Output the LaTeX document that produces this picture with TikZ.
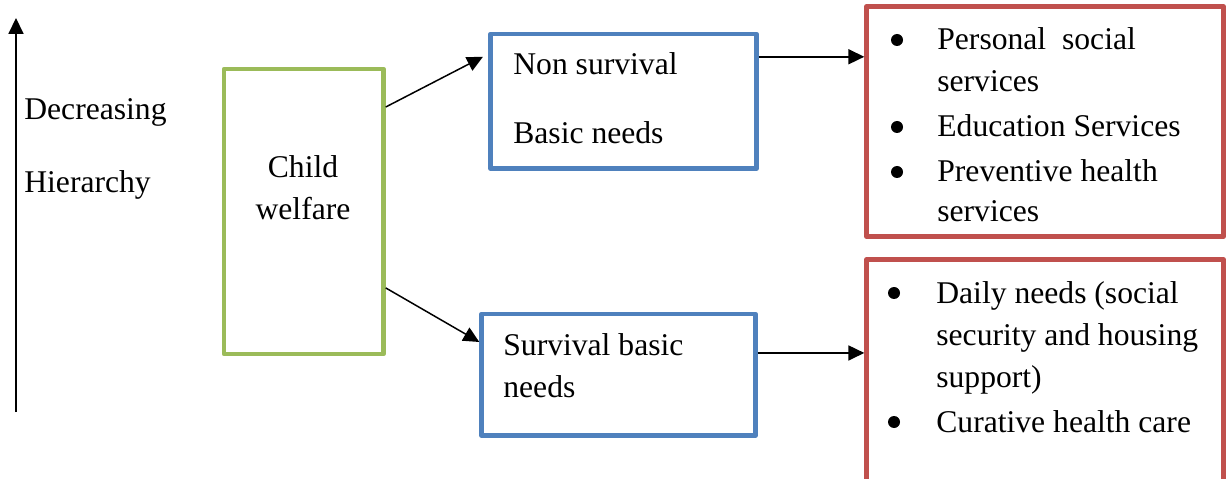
\documentclass[tikz,border=0pt]{standalone}
\usepackage{fontspec}
\setmainfont{Liberation Serif}
\usetikzlibrary{arrows.meta,calc}
\definecolor{cgreen}{HTML}{9BBB59}
\definecolor{cblue}{HTML}{4F81BD}
\definecolor{cred}{HTML}{C0504D}
\begin{document}
\begin{tikzpicture}[x=0.02cm,y=-0.02cm,
  frame/.style={draw, line width=2.55pt, line join=round, inner sep=0pt},
  arr/.style={line width=0.85pt, -{Triangle[length=9pt,width=8.5pt]}},
  txt/.style={inner sep=0pt, anchor=base west, font=\fontsize{18}{22}\selectfont},
  ctxt/.style={txt, anchor=base},
  dot/.style={circle, fill=black, inner sep=0pt, minimum size=0.24cm}]
\useasboundingbox (0,0) rectangle (1226,479);

% hierarchy axis
\coordinate (vb) at (16,412);
\coordinate (vt) at (16,18);
\draw[arr] (vb) -- (vt);
\node[txt] (dec) at (24,120) {Decreasing};
\node[txt] (hier) at (24,193) {Hierarchy};

% boxes
\node[frame, draw=cgreen, minimum width=3.19cm, minimum height=5.7cm] (cw) at (303.75,211.5) {};
\node[frame, draw=cblue, minimum width=5.32cm, minimum height=2.69cm] (b1) at (623.5,101.25) {};
\node[frame, draw=cblue, minimum width=5.48cm, minimum height=2.43cm] (b2) at (618.5,374.75) {};
\node[frame, draw=cred, minimum width=7.14cm, minimum height=4.6cm] (r1) at (1045,121.5) {};
\node[frame, draw=cred, minimum width=7.14cm, minimum height=4.61cm] (r2) at (1045,374.75) {};

% box texts
\node[ctxt] (cwa) at (303,178) {Child};
\node[ctxt] (cwb) at (303,220) {welfare};
\node[txt] (b1a) at (513,75) {Non survival};
\node[txt] (b1b) at (513,144) {Basic needs};
\node[txt] (b2a) at (503,355) {Survival basic};
\node[txt] (b2b) at (503,397) {needs};

% first list
\node[dot] (r1d1) at (897,40) {};
\node[dot] (r1d2) at (897,127) {};
\node[dot] (r1d3) at (897,172) {};
\node[txt] (r1a) at (937,50) {Personal\ \ social};
\node[txt] (r1b) at (937,92) {services};
\node[txt] (r1c) at (937,137) {Education Services};
\node[txt] (r1e) at (937,182) {Preventive health};
\node[txt] (r1f) at (937,222) {services};

% second list
\node[dot] (r2d1) at (894,293) {};
\node[dot] (r2d2) at (894,422) {};
\node[txt] (r2a) at (936,303) {Daily needs (social};
\node[txt] (r2b) at (936,345) {security and housing};
\node[txt] (r2c) at (936,387) {support)};
\node[txt] (r2e) at (936,432) {Curative health care};

% connectors
\draw[arr, shorten >=0.12cm] ($(cw.north east)!0.139!(cw.south east)$) -- ($(b1.north west)!0.16!(b1.south west)$);
\draw[arr] ($(cw.north east)!0.764!(cw.south east)$) -- ($(b2.north west)!0.24!(b2.south west)$);
\coordinate (a3) at ($(b1.north east)!0.18!(b1.south east)$);
\draw[arr] (a3) -- (a3 -| r1.west);
\coordinate (a4) at ($(b2.north east)!0.327!(b2.south east)$);
\draw[arr] (a4) -- (a4 -| r2.west);
\end{tikzpicture}
\end{document}
